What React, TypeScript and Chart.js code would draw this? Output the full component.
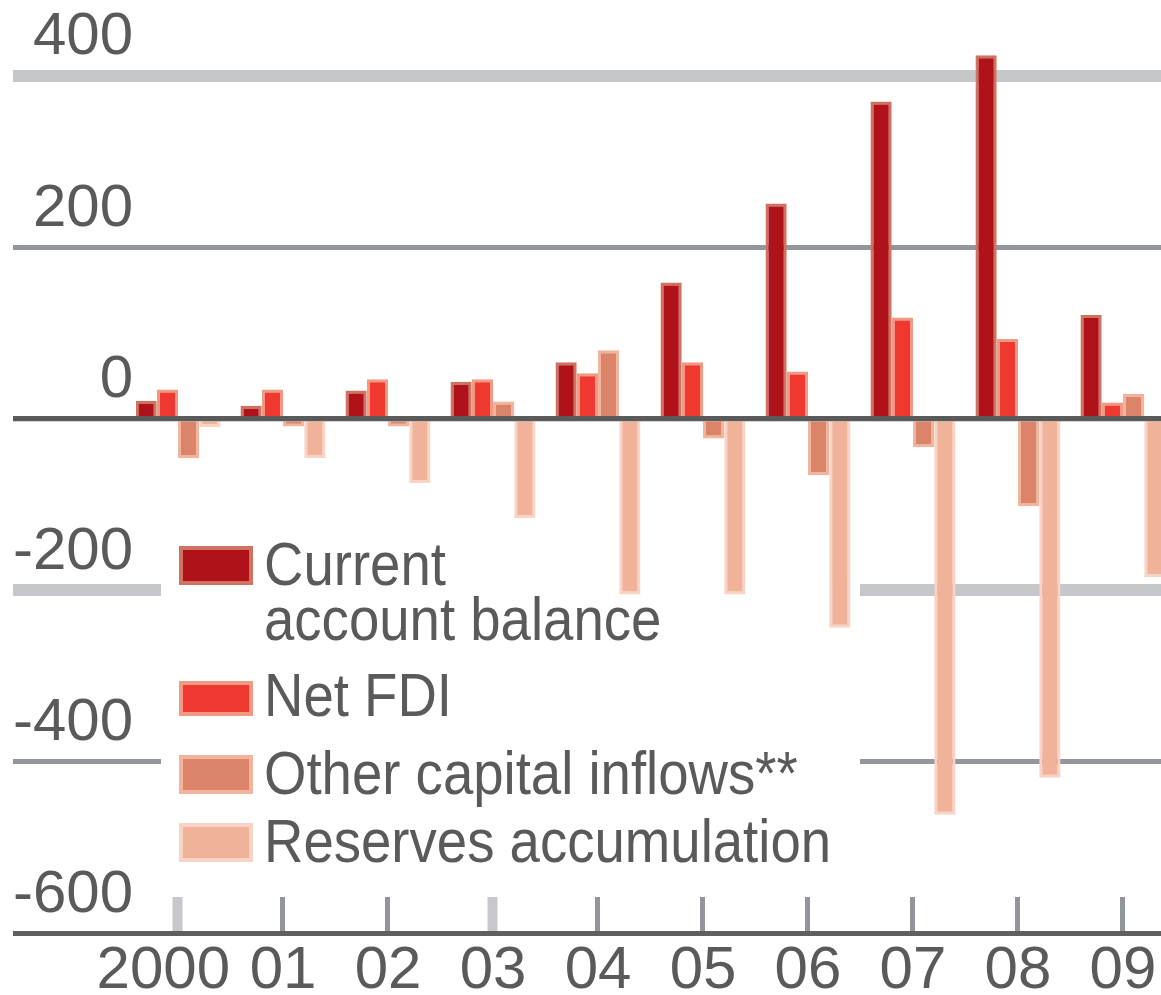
import React, { useEffect, useRef } from "react";
import { Chart, registerables } from "chart.js";

Chart.register(...registerables);

// ---- data ----
const years = ["2000", "01", "02", "03", "04", "05", "06", "07", "08", "09"];
const currentAccount = [21, 15, 33, 43, 66, 159, 251, 370, 424, 121];
const netFDI = [34, 34, 46, 46, 53, 66, 55, 118, 93, 19];
const otherInflows = [-46, -9, -9, 20, 80, -23, -66, -33, -102, 29];
const reserves = [-10, -46, -75, -116, -205, -205, -244, -462, -419, -185];
const yTickValues = [-600, -400, -200, 0, 200, 400];
const seriesNames = ["Current account balance", "Net FDI", "Other capital inflows**", "Reserves accumulation"];
const legendLines = [["Current", "account balance"], ["Net FDI"], ["Other capital inflows**"], ["Reserves accumulation"]];

// ---- styles ----
const fills = ["#AF1219", "#EE3830", "#DC846A", "#F1B29A"];
const fringes = ["#D07260", "#F09A84", "#F2B49C", "#F8D4C6"];
const AXIS_FONT = "'Liberation Sans', Arial, sans-serif";
const TEXT = "#5A5A5A";
const X_MIN = -0.4;
const X_MAX = 9.362;

function yGrid(v: number) {
  if (v === 400 || v === -200) return { color: "#C6C7CB", width: 12 };
  if (v === 200 || v === -400) return { color: "#94969E", width: 5 };
  return { color: "#5F5F5F", width: 5 };
}
function xTick(i: number) {
  if (i === 0 || i === 3) return { color: "#C8C8CC", width: 10 };
  return { color: "#93959C", width: 5 };
}

const maskPlugin = {
  id: "legendMask",
  beforeDatasetsDraw(chart: any) {
    const y = chart.scales.y;
    const ctx = chart.ctx;
    const top = y.getPixelForValue(-200) - 9;
    const bottom = y.getPixelForValue(-400) + 6;
    ctx.save();
    ctx.fillStyle = "#FFFFFF";
    ctx.fillRect(161, top, 699, bottom - top);
    ctx.restore();
  },
  afterDatasetsDraw(chart: any) {
    const y = chart.scales.y;
    const ctx = chart.ctx;
    const py = y.getPixelForValue(0);
    ctx.save();
    ctx.strokeStyle = "#5A5A5A";
    ctx.lineWidth = 5;
    ctx.beginPath();
    ctx.moveTo(13, py);
    ctx.lineTo(chart.chartArea.right, py);
    ctx.stroke();
    ctx.restore();
  },
};

export default function App() {
  const ref = useRef<HTMLCanvasElement | null>(null);

  useEffect(() => {
    document.documentElement.style.overflow = "hidden";
    document.body.style.overflow = "hidden";
    const seriesData = [currentAccount, netFDI, otherInflows, reserves];
    const chart = new Chart(ref.current as HTMLCanvasElement, {
      type: "bar",
      data: {
        datasets: seriesData.map((d, i) => ({
          label: seriesNames[i],
          data: d.map((v, j) => ({ x: j, y: v })),
          backgroundColor: fills[i],
          borderColor: fringes[i],
          borderWidth: 3,
          borderSkipped: "start",
          categoryPercentage: 0.81,
          barPercentage: 1.0,
          xAxisID: "x",
        })),
      },
      options: {
        animation: false,
        responsive: true,
        maintainAspectRatio: false,
        events: [],
        layout: { padding: { top: 33, left: 0, right: 0, bottom: 0 } },
        plugins: { legend: { display: false }, tooltip: { enabled: false }, title: { display: false } },
        scales: {
          x: {
            type: "linear",
            position: "bottom",
            min: X_MIN,
            max: X_MAX,
            offset: false,
            afterBuildTicks: (s: any) => {
              s.ticks = years.map((_, i) => ({ value: i }));
            },
            border: { display: false },
            grid: {
              offset: false,
              drawOnChartArea: false,
              drawTicks: true,
              tickLength: -36,
              tickColor: (c: any) => xTick(c.index).color,
              tickWidth: (c: any) => xTick(c.index).width,
            },
            ticks: { display: false },
            afterFit: (s: any) => {
              s.height = 0;
            },
          },
          xLabels: {
            type: "linear",
            position: "bottom",
            min: X_MIN,
            max: X_MAX,
            offset: false,
            afterBuildTicks: (s: any) => {
              s.ticks = years.map((_, i) => ({ value: i === 0 ? -0.14 : i }));
            },
            border: { display: false },
            grid: { display: false, drawTicks: false, offset: false },
            ticks: {
              padding: 2,
              maxRotation: 0,
              autoSkip: false,
              color: TEXT,
              font: { family: AXIS_FONT, size: 60 },
              callback: (_v: any, i: number) => years[i],
            },
            afterFit: (s: any) => {
              s.height = 62;
            },
          },
          y: {
            min: -600,
            max: 450,
            afterBuildTicks: (s: any) => {
              s.ticks = yTickValues.map((v) => ({ value: v }));
            },
            afterFit: (s: any) => {
              s.width = 136;
            },
            border: { display: false },
            grid: {
              drawTicks: true,
              tickLength: 123,
              color: (c: any) => yGrid(c.tick.value).color,
              lineWidth: (c: any) => yGrid(c.tick.value).width,
              tickColor: (c: any) => yGrid(c.tick.value).color,
              tickWidth: (c: any) => yGrid(c.tick.value).width,
            },
            ticks: {
              padding: -120,
              labelOffset: -38,
              crossAlign: "near",
              color: TEXT,
              font: { family: AXIS_FONT, size: 60 },
              callback: (v: any) => (Number(v) < 0 ? "-" + Math.abs(Number(v)) : String(v)),
            },
          },
        },
      },
      plugins: [maskPlugin],
    } as any);
    return () => chart.destroy();
  }, []);

  const legendTops = [536, 667, 745, 813];
  const boxRects = [
    [546, 39],
    [681, 35],
    [755, 39],
    [823, 39],
  ];

  return (
    <div style={{ position: "fixed", left: 0, top: 0, width: 1161, height: 995, background: "#fff" }}>
      <canvas ref={ref} />
      {legendLines.map((lines, i) => (
        <React.Fragment key={i}>
          <div
            style={{
              position: "absolute",
              left: 179,
              top: boxRects[i][0],
              width: 74,
              height: boxRects[i][1],
              boxSizing: "border-box",
              background: fills[i],
              border: `4px solid ${fringes[i]}`,
            }}
          />
          <div
            style={{
              position: "absolute",
              left: 264,
              top: legendTops[i],
              fontFamily: AXIS_FONT,
              fontSize: 62,
              lineHeight: "55px",
              color: TEXT,
              whiteSpace: "nowrap",
              transform: "scaleX(0.88)",
              transformOrigin: "left top",
            }}
          >
            {lines.map((l, j) => (
              <div key={j}>{l}</div>
            ))}
          </div>
        </React.Fragment>
      ))}
    </div>
  );
}
